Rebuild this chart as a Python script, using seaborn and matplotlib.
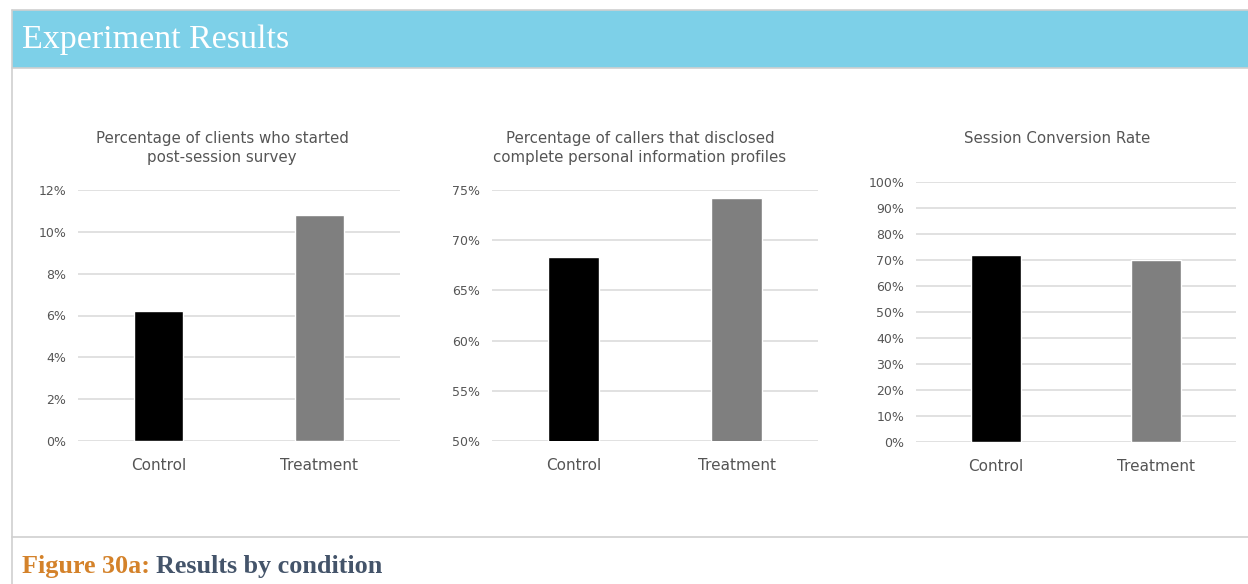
import matplotlib
matplotlib.use("Agg")
import matplotlib.pyplot as plt
from matplotlib.patches import Rectangle
from matplotlib.lines import Line2D
from matplotlib.ticker import FuncFormatter, MultipleLocator
import seaborn as sns

# ---- data ----
conditions = ["Control", "Treatment"]
survey_started = [6.2, 10.8]          # % of clients who started post-session survey
profiles_disclosed = [68.3, 74.2]     # % of callers disclosing complete profiles
conversion_rate = [72.0, 70.0]        # session conversion rate, %

titles = [
    "Percentage of clients who started\npost-session survey",
    "Percentage of callers that disclosed\ncomplete personal information profiles",
    "Session Conversion Rate",
]
y_ranges = [(0, 12, 2), (50, 75, 5), (0, 100, 10)]

bar_colors = ["#000000", "#7f7f7f"]
text_gray = "#555555"
grid_gray = "#d9d9d9"

sns.set_theme(style="white")
plt.rcParams["font.family"] = ["DejaVu Sans"]

W, H = 1248, 584
fig = plt.figure(figsize=(W / 100, H / 100), dpi=100)
fig.patch.set_facecolor("white")


def fx(px):
    return px / W


def fy(py):
    return 1 - py / H


# header band and frame
fig.patches.append(Rectangle((fx(12), fy(68)), fx(W - 12), (58) / H,
                             transform=fig.transFigure, facecolor="#7dd0e8",
                             edgecolor="none", zorder=0))
for line in [
    ((fx(12), 1.0), (fy(10), fy(10))),
    ((fx(12), 1.0), (fy(68), fy(68))),
    ((fx(12), fx(12)), (fy(10), 0.0)),
    ((fx(12), 1.0), (fy(537), fy(537))),
]:
    fig.lines.append(Line2D(line[0], line[1], transform=fig.transFigure,
                            color="#cfcfcf", lw=1.2, zorder=1))

serif = ["Liberation Serif", "DejaVu Serif"]
fig.text(fx(22), fy(40), "Experiment Results", color="white",
         family=serif, fontsize=24.5, va="center", ha="left")

t1 = fig.text(fx(22), fy(566), "Figure 30a: ", color="#d4822a",
              family=serif, fontsize=18.8, fontweight="bold",
              va="center", ha="left")
fig.canvas.draw()
bb = t1.get_window_extent()
fig.text(bb.x1 / W, fy(566), "Results by condition", color="#44546a",
         family=serif, fontsize=18.8, fontweight="bold",
         va="center", ha="left")

# axes geometry in pixels: (left, right, top_of_range, baseline)
geoms = [(78, 400, 190, 441), (492, 818, 190, 441), (916, 1236, 182, 442)]
title_centers = [222, 640, 1057]
series = [survey_started, profiles_disclosed, conversion_rate]

for vals, (l, r, t, b), (lo, hi, step), title, tc in zip(
        series, geoms, y_ranges, titles, title_centers):
    ax = fig.add_axes([fx(l), fy(b), (r - l) / W, (b - t) / H])
    sns.barplot(x=conditions, y=vals, hue=conditions, palette=bar_colors,
                width=0.31, legend=False, ax=ax, zorder=3)
    ax.set_xlim(-0.5, 1.5)
    ax.set_ylim(lo, hi)
    ax.yaxis.set_major_locator(MultipleLocator(step))
    ax.yaxis.set_major_formatter(FuncFormatter(lambda v, p: f"{v:.0f}%"))
    ax.grid(axis="y", color=grid_gray, lw=1.1, zorder=0)
    ax.set_axisbelow(True)
    for s in ax.spines.values():
        s.set_visible(False)
    ax.tick_params(axis="y", length=0, pad=8.5, labelsize=9, labelcolor=text_gray)
    ax.tick_params(axis="x", length=0, pad=12, labelsize=11, labelcolor=text_gray)
    ax.set_xlabel("")
    ax.set_ylabel("")
    ax.set_facecolor("none")
    fig.text(fx(tc), fy(131), title, ha="center", va="top",
             fontsize=10.8, color=text_gray, linespacing=1.3)

fig.savefig("out.png", dpi=100, facecolor="white")
